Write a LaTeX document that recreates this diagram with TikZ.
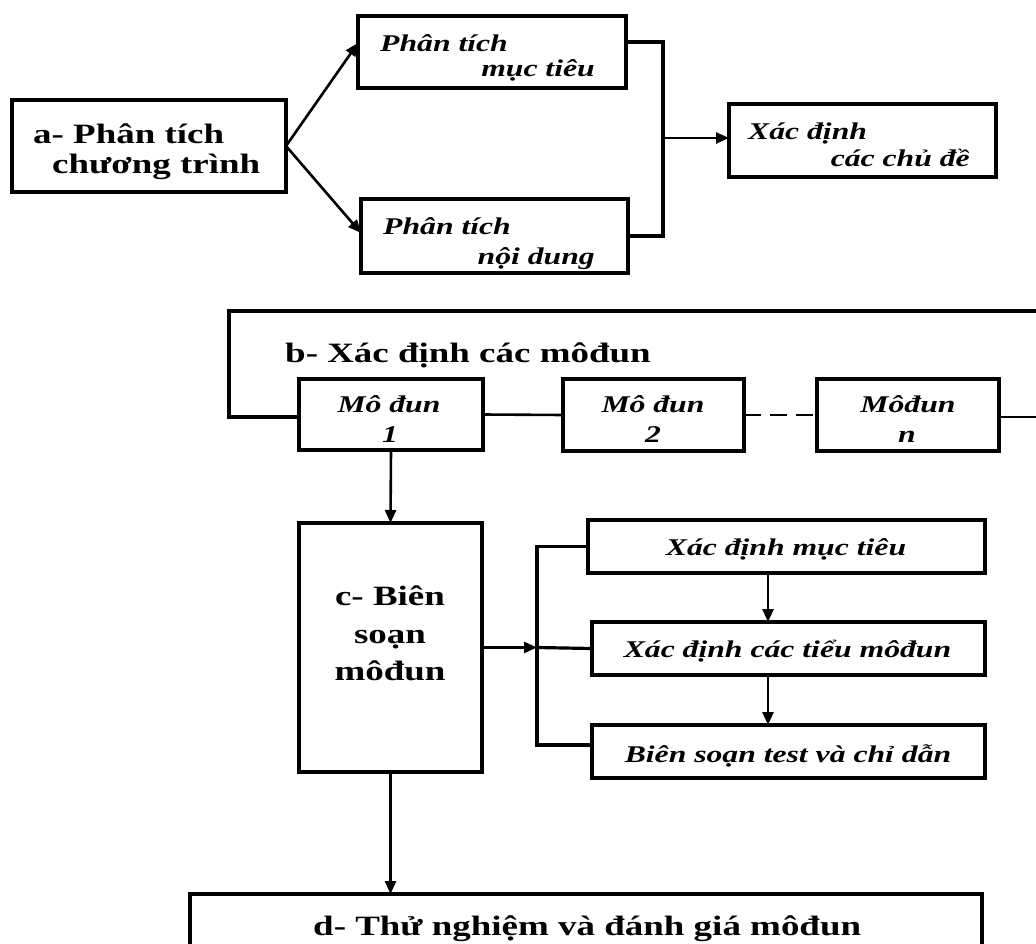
\documentclass[tikz,border=0pt]{standalone}
\usepackage{fontspec}
\setmainfont{Liberation Serif}[FakeStretch=1.32]
\usetikzlibrary{arrows.meta,calc}
\begin{document}
\begin{tikzpicture}[x=1pt,y=-1pt,
  box/.style={draw, line width=3.6pt, inner sep=0pt, outer sep=0pt},
  conn/.style={line width=2.6pt},
  frame/.style={line width=3.2pt},
  arr/.style={conn, -{Triangle[length=13pt,width=11pt]}},
  lbl/.style={inner sep=0pt, font=\fontsize{28}{34}\selectfont\bfseries},
  sub/.style={inner sep=0pt, font=\fontsize{24}{29}\selectfont\bfseries\itshape}]
\useasboundingbox[fill=white] (0,0) rectangle (1036,944);
% boxes
\node[box, minimum width=274pt, minimum height=92pt] (a) at (149,146) {};
\node[box, minimum width=268pt, minimum height=72pt] (pm) at (492,52) {};
\node[box, minimum width=267pt, minimum height=74pt] (pn) at (494.5,236) {};
\node[box, minimum width=267pt, minimum height=73pt] (xd) at (862.5,140.5) {};
\node[box, minimum width=184pt, minimum height=71pt] (m1) at (391,414.5) {};
\node[box, minimum width=181pt, minimum height=72pt] (m2) at (653.5,415) {};
\node[box, minimum width=182pt, minimum height=72pt] (mn) at (908,415) {};
\node[box, minimum width=183pt, minimum height=249pt] (c) at (390.5,647.5) {};
\node[box, minimum width=397pt, minimum height=53pt] (s1) at (786.5,546.5) {};
\node[box, minimum width=393pt, minimum height=53pt] (s2) at (788.5,648.5) {};
\node[box, minimum width=393pt, minimum height=53pt] (s3) at (788.5,751.5) {};
\node[box, minimum width=792pt, minimum height=70pt] (d) at (586,929) {};
% texts
\node[lbl, anchor=base west] (ta1) at (33,144) {a- Phân tích};
\node[lbl, anchor=base west] (ta2) at (52,174) {chương trình};
\node[sub, anchor=base west] (tpm1) at (380,52) {Phân tích};
\node[sub, anchor=base east] (tpm2) at (595,77) {mục tiêu};
\node[sub, anchor=base west] (tpn1) at (383,235) {Phân tích};
\begin{scope}
\clip (pn.north west) rectangle (pn.south east);
\node[sub, anchor=base east] (tpn2) at (595,264) {nội dung};
\end{scope}
\node[sub, anchor=base west] (txd1) at (748,140) {Xác định};
\node[sub, anchor=base east] (txd2) at (970,167) {các chủ đề};
\node[lbl, anchor=base west] (tb) at (285,362) {b- Xác định các môđun};
\node[sub, anchor=base] (tm1a) at (389,412) {Mô đun};
\node[sub, anchor=base] (tm1b) at (390,442) {1};
\node[sub, anchor=base] (tm2a) at (653,412) {Mô đun};
\node[sub, anchor=base] (tm2b) at (653,442) {2};
\node[sub, anchor=base] (tmna) at (908,412) {Môđun};
\node[sub, anchor=base] (tmnb) at (907,442) {n};
\node[lbl, anchor=base] (tc1) at (390,605) {c- Biên};
\node[lbl, anchor=base] (tc2) at (390,643) {soạn};
\node[lbl, anchor=base] (tc3) at (390,680) {môđun};
\node[sub, anchor=base] (ts1) at (786,555) {Xác định mục tiêu};
\node[sub, anchor=base] (ts2) at (787.5,657) {Xác định các tiểu môđun};
\node[sub, anchor=base] (ts3) at (788,762) {Biên soạn test và chỉ dẫn};
\node[lbl, anchor=base west] (td) at (313,935) {d- Thử nghiệm và đánh giá môđun};
% connectors part a
\draw[arr] (a.east) -- ([yshift=9pt]pm.west);
\draw[arr] (a.east) -- ([yshift=3pt]pn.west);
\coordinate (bx) at (663,138);
\draw[frame] ([yshift=10pt]pm.east) -| (bx) |- (pn.east);
\draw[arr] (bx) -- (bx -| xd.west);
% part b
\coordinate (tl) at (229,311);
\coordinate (tr) at (1040,311);
\coordinate (rr) at (1040,417);
\draw[frame] ([yshift=-2.5pt]m1.west) -| (tl) -- (tr);
\draw[conn] (m1.east) -- (m2.west);
\draw[conn, dash pattern=on 17pt off 9pt] (m2.east) -- (mn.west);
\draw[conn] ([yshift=-2pt]mn.east) -- (rr);
\draw[arr] (m1.south) -- (c.north);
% part c
\coordinate (bus) at (537,647.5);
\draw[arr] (c.east) -- (bus);
\draw[frame] (s1.west) -| (bus) |- ([yshift=6.5pt]s3.west);
\draw[frame] (bus) -- (s2.west);
\coordinate (vx) at (768,0);
\draw[arr] (s1.south -| vx) -- (s2.north -| vx);
\draw[arr] (s2.south -| vx) -- (s3.north -| vx);
% part d
\draw[arr] (c.south) -- (c.south |- d.north);
\end{tikzpicture}
\end{document}
